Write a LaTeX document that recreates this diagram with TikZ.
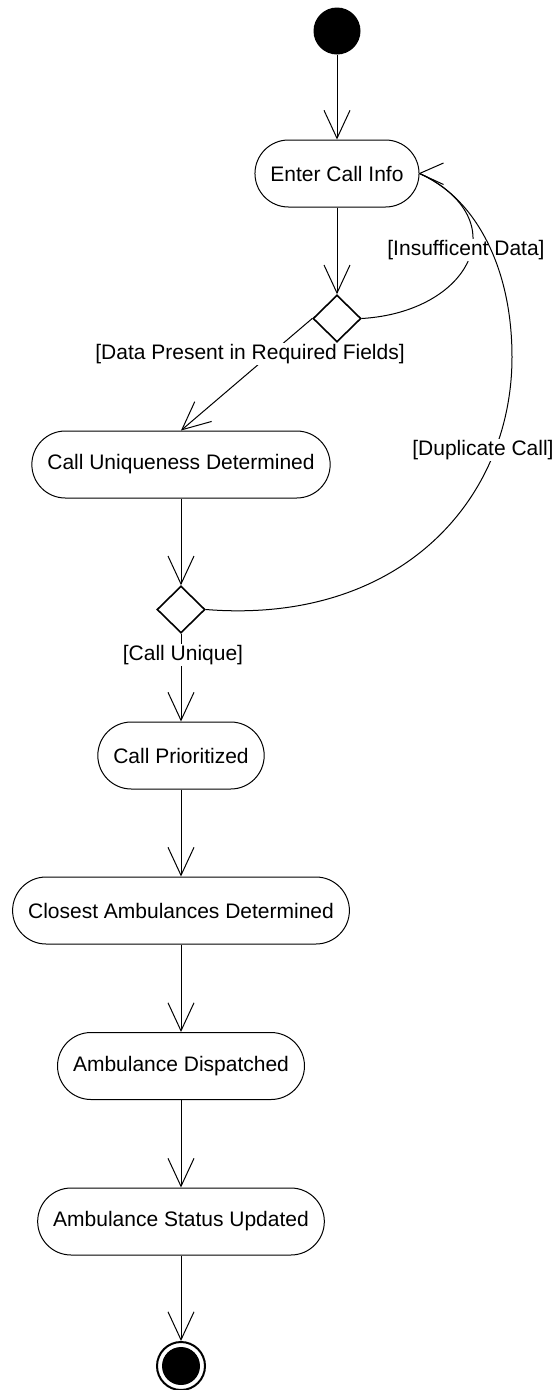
\documentclass[tikz,border=0pt]{standalone}
\usepackage{fontspec}
\setmainfont{Liberation Sans}
\usetikzlibrary{arrows.meta,shapes.geometric}
\begin{document}
\begin{tikzpicture}[x=1pt,y=-1pt,line width=1pt,
  every node/.style={font=\fontsize{21}{25}\selectfont},
  act/.style={draw,rectangle,rounded corners=33.5pt,minimum height=67pt,inner xsep=15.5pt,inner ysep=0pt},
  dec/.style={draw,diamond,line width=1.6pt,inner sep=0pt,minimum width=48pt,minimum height=47pt},
  guard/.style={fill=white,inner sep=1pt},
  flow/.style={-{Straight Barb[length=28pt,width=26pt]}}]
\useasboundingbox (0,0) rectangle (558,1390);
% nodes
\node[circle,fill=black,minimum size=47pt,inner sep=0pt] (init) at (337,31) {};
\node[act] (enter) at (337,173.5) {Enter Call Info};
\node[dec] (d1) at (337,318.5) {};
\node[act] (uniq) at (181,464.5) {Call Uniqueness Determined};
\node[dec] (d2) at (181,609.5) {};
\node[act] (prio) at (181,755.5) {Call Prioritized};
\node[act] (close) at (181,910.5) {Closest Ambulances Determined};
\node[act] (disp) at (181,1066) {Ambulance Dispatched};
\node[act] (stat) at (181,1221.5) {Ambulance Status Updated};
\node[circle,draw,line width=2pt,minimum size=48pt,inner sep=0pt] (final) at (181,1366) {};
\node[circle,fill=black,minimum size=38pt,inner sep=0pt] (finalin) at (181,1366) {};
% straight flows
\draw[flow] (init) -- (enter);
\draw[flow] (enter) -- (d1.north);
\draw[flow] (d1.west) -- (uniq.north);
\node[guard] (gdata) at (250,354) {[Data Present in Required Fields]};
\draw[flow] (uniq) -- (d2.north);
\draw[flow] (d2.south) -- (prio.north);
\node[guard] (gunique) at (183,655) {[Call Unique]};
\draw[flow] (prio) -- (close);
\draw[flow] (close) -- (disp);
\draw[flow] (disp) -- (stat);
\draw[flow] (stat) -- (final.north);
% loop back flows
\draw (d1.east) .. controls (470,312) and (518,220) .. (enter.east);
\node[guard] (ginsuf) at (466,250) {[Insufficent Data]};
\draw (d2.east) .. controls (400,625) and (512,500) .. (512,357)
      .. controls (512,260) and (470,195) .. (enter.east);
\node[guard] (gdup) at (483,450) {[Duplicate Call]};
% shared open arrowhead on Enter Call Info
\draw (enter.east) -- ++(24,-10.5);
\draw (enter.east) -- ++(24,11);
\end{tikzpicture}
\end{document}
